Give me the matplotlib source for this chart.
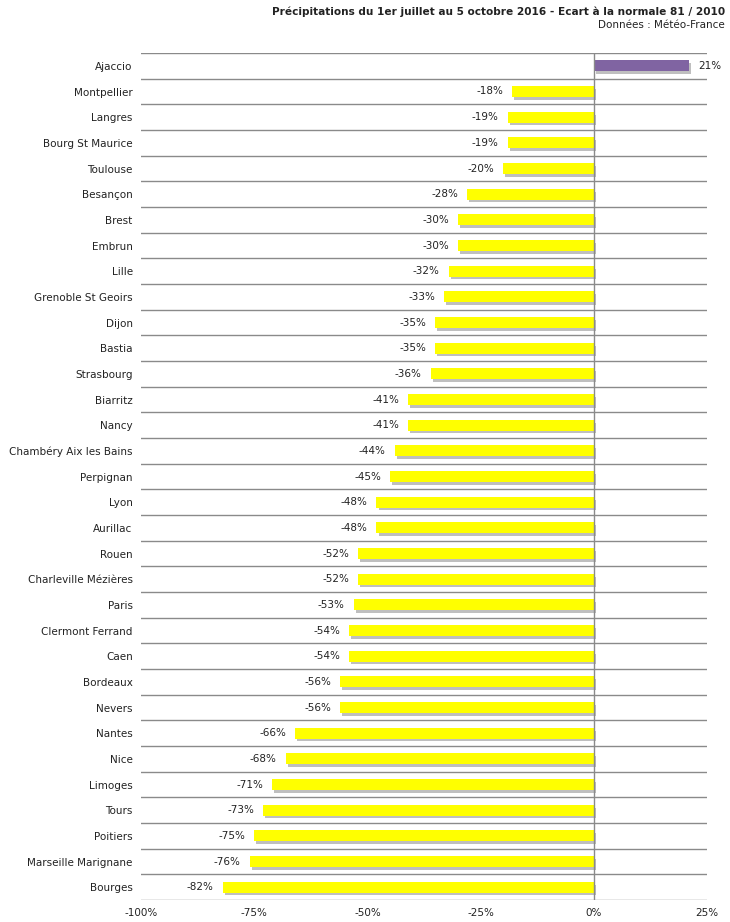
import matplotlib
matplotlib.use("Agg")
import matplotlib.pyplot as plt
import matplotlib.patheffects as pe
import numpy as np

cities = ["Ajaccio", "Montpellier", "Langres", "Bourg St Maurice", "Toulouse", "Besançon",
          "Brest", "Embrun", "Lille", "Grenoble St Geoirs", "Dijon", "Bastia", "Strasbourg",
          "Biarritz", "Nancy", "Chambéry Aix les Bains", "Perpignan", "Lyon", "Aurillac",
          "Rouen", "Charleville Mézières", "Paris", "Clermont Ferrand", "Caen", "Bordeaux",
          "Nevers", "Nantes", "Nice", "Limoges", "Tours", "Poitiers", "Marseille Marignane",
          "Bourges"]
values = [21, -18, -19, -19, -20, -28, -30, -30, -32, -33, -35, -35, -36, -41, -41, -44,
          -45, -48, -48, -52, -52, -53, -54, -54, -56, -56, -66, -68, -71, -73, -75, -76, -82]
xticks = [-100, -75, -50, -25, 0, 25]

plt.rcParams['font.family'] = ['DejaVu Sans']

fig = plt.figure(figsize=(7.3, 9.22), dpi=100)
ax = fig.add_axes([141/730, 1-900/922, 566/730, 847/922])

n = len(cities)
y = np.arange(n)
colors = ["#8064A2" if v > 0 else "#FFFF00" for v in values]
shadow = [pe.SimplePatchShadow(offset=(1.5, -2), shadow_rgbFace="#8c8c8c", alpha=0.55), pe.Normal()]
bars = ax.barh(y, values, height=0.42, color=colors, zorder=3)
for b in bars:
    b.set_path_effects(shadow)

for yi, v in zip(y, values):
    if v < 0:
        ax.text(v - 2, yi, f"{v}%", ha="right", va="center", fontsize=7.5, color="#222222")
    else:
        ax.text(v + 2, yi, f"{v}%", ha="left", va="center", fontsize=7.5, color="#222222")

for b in np.arange(-0.5, n, 1.0):
    ax.axhline(b, color="#8a8a8a", lw=1, zorder=1)
ax.axvline(0, color="#8a8a8a", lw=1, zorder=4)

ax.set_xlim(-100, 25)
ax.set_ylim(n - 0.5, -0.5)
ax.set_yticks(y)
ax.set_yticklabels(cities, fontsize=7.5, color="#222222")
ax.set_xticks(xticks)
ax.set_xticklabels([f"{t}%" for t in xticks], fontsize=7.5, color="#222222")
ax.tick_params(length=0, pad=6)
for s in ax.spines.values():
    s.set_visible(False)

fig.text(725/730, 1-12/922, "Précipitations du 1er juillet au 5 octobre 2016 - Ecart à la normale 81 / 2010",
         ha="right", va="center", fontsize=7.6, fontweight="bold", color="#222222")
fig.text(725/730, 1-25/922, "Données : Météo-France", ha="right", va="center", fontsize=7.5, color="#222222")

fig.savefig("out.png", dpi=100)
